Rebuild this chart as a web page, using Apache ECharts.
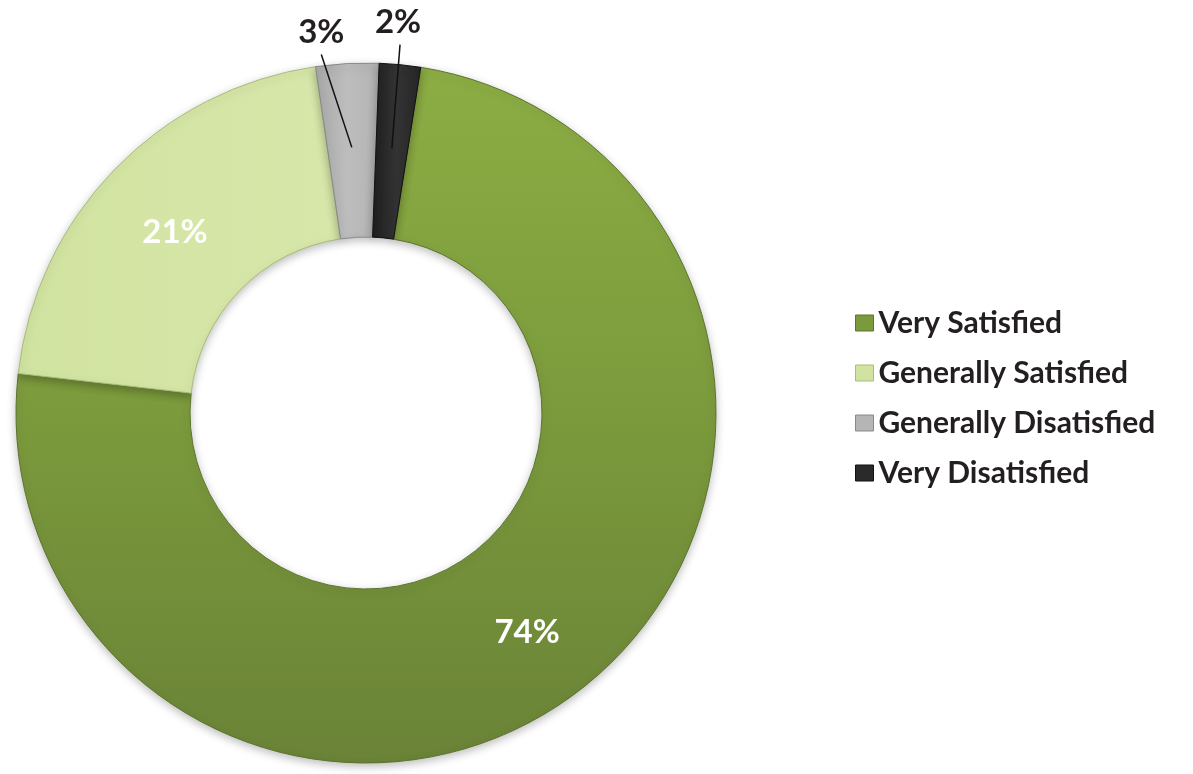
<!DOCTYPE html>
<html>
<head>
<meta charset="utf-8">
<script src="https://cdn.jsdelivr.net/npm/echarts@6/dist/echarts.min.js"></script>
<style>
html,body{margin:0;padding:0;background:#fff;}
#chart{width:1193px;height:774px;}
</style>
</head>
<body>
<div id="chart"></div>
<script>
const categories = ['Very Satisfied', 'Generally Satisfied', 'Generally Disatisfied', 'Very Disatisfied'];
const values = [74.3, 20.9, 2.9, 1.9];

const CX = 366, CY = 413, R_OUT = 350, R_IN = 176, R_LINE = 266;
const FONT = 'Lato, "Open Sans", sans-serif';

const fills = [
  new echarts.graphic.LinearGradient(0, 0, 0, 1, [
    {offset: 0, color: '#8cad44'}, {offset: 0.5, color: '#7b9a3c'}, {offset: 1, color: '#6a8337'}
  ]),
  new echarts.graphic.LinearGradient(0, 0, 1, 0, [
    {offset: 0, color: '#d1e3a0'}, {offset: 1, color: '#d7e7aa'}
  ]),
  new echarts.graphic.LinearGradient(0, 0, 1, 0, [
    {offset: 0, color: '#a9a9a9'}, {offset: 0.5, color: '#bdbdbd'}, {offset: 1, color: '#b3b3b3'}
  ]),
  new echarts.graphic.LinearGradient(0, 0, 1, 0, [
    {offset: 0, color: '#1e1e1e'}, {offset: 0.5, color: '#333333'}, {offset: 1, color: '#262626'}
  ])
];
const borders = ['#5d7430', '#a9bd78', '#8a8a8a', '#111111'];
const legendColors = ['#7b9a3c', '#d1e3a0', '#b5b5b5', '#2a2a2a'];

// label / leader-line offsets relative to each small slice's outer-edge midpoint
const outsideLabel = {
  2: {label: [-26, -31], lineEnd: [-26, -9]},
  3: {label: [-2, -42], lineEnd: [0, -20]}
};
const insideOffset = {0: [0, 8], 1: [0, 4]};

const chart = echarts.init(document.getElementById('chart'), null, {renderer: 'canvas'});

const data = categories.map((name, i) => {
  const inside = i < 2;
  return {
    name: name,
    value: values[i],
    itemStyle: {color: fills[i], borderColor: borders[i], borderWidth: 1},
    label: inside ? {
      position: 'inside', color: '#ffffff', fontSize: 33, fontWeight: 'bold', fontFamily: FONT,
      offset: insideOffset[i]
    } : {
      position: 'outside', color: '#231f20', fontSize: 33, fontWeight: 'bold', fontFamily: FONT
    },
    labelLine: inside ? {show: false} : {show: true, length: 10, length2: 5, lineStyle: {opacity: 0}}
  };
});

chart.setOption({
  backgroundColor: '#ffffff',
  animation: false,
  legend: {
    orient: 'vertical',
    left: 855,
    top: 308,
    padding: 0,
    itemWidth: 18,
    itemHeight: 16,
    itemGap: 20,
    icon: 'rect',
    data: categories.map((c, i) => ({name: c, itemStyle: {color: legendColors[i], borderColor: borders[i], borderWidth: 1}})),
    textStyle: {fontSize: 30, fontWeight: 'bold', color: '#231f20', fontFamily: FONT, lineHeight: 30}
  },
  series: [{
    type: 'pie',
    center: [CX, CY],
    radius: [R_IN, R_OUT],
    startAngle: 81,
    clockwise: true,
    avoidLabelOverlap: false,
    silent: true,
    itemStyle: {shadowBlur: 8, shadowColor: 'rgba(0,0,0,0.25)', shadowOffsetY: 3},
    label: {
      formatter: p => Math.round(p.percent) + '%'
    },
    labelLayout: function (p) {
      const cfg = outsideLabel[p.dataIndex];
      if (!cfg || !p.labelLinePoints) return {};
      const o = p.labelLinePoints[0];
      return {
        x: o[0] + cfg.label[0],
        y: o[1] + cfg.label[1],
        align: 'center',
        verticalAlign: 'middle'
      };
    },
    data: data
  }]
});

// Leader lines from the middle of the ring to the outside labels, using the library's slice layout
const sData = chart.getModel().getSeriesByIndex(0).getData();
const lines = [];
Object.keys(outsideLabel).forEach(k => {
  const i = +k;
  const L = sData.getItemLayout(i);
  const mid = (L.startAngle + L.endAngle) / 2;
  const ox = L.cx + L.r * Math.cos(mid), oy = L.cy + L.r * Math.sin(mid);
  const sx = L.cx + R_LINE * Math.cos(mid), sy = L.cy + R_LINE * Math.sin(mid);
  const e = outsideLabel[i].lineEnd;
  lines.push({
    type: 'line',
    z: 100,
    silent: true,
    shape: {x1: sx, y1: sy, x2: ox + e[0], y2: oy + e[1]},
    style: {stroke: '#111111', lineWidth: 1.5}
  });
});
chart.setOption({graphic: lines});
</script>
</body>
</html>
